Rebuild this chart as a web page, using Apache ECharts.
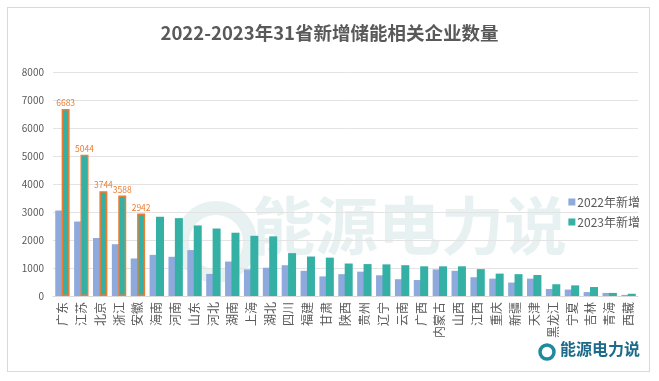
<!DOCTYPE html>
<html>
<head>
<meta charset="utf-8">
<script src="https://cdn.jsdelivr.net/npm/echarts@6/dist/echarts.min.js"></script>
<style>
html,body{margin:0;padding:0;background:#ffffff;}
#frame{position:absolute;left:7px;top:7px;width:643px;height:365px;border:1px solid #d9d9d9;box-sizing:border-box;}
#chart{position:absolute;left:0;top:0;width:659px;height:381px;}
</style>
</head>
<body>
<div id="frame"></div>
<div id="chart"></div>
<script>
const titleText = '2022-2023年31省新增储能相关企业数量';
const provinces = ['广东','江苏','北京','浙江','安徽','海南','河南','山东','河北','湖南','上海','湖北','四川','福建','甘肃','陕西','贵州','辽宁','云南','广西','内蒙古','山西','江西','重庆','新疆','天津','黑龙江','宁夏','吉林','青海','西藏'];
const seriesNames = ['2022年新增','2023年新增'];
const values2022 = [3050,2660,2070,1850,1340,1470,1400,1640,790,1230,950,1010,1100,900,700,780,870,740,600,570,950,900,670,620,480,620,250,230,140,110,40];
const values2023 = [6683,5044,3744,3588,2942,2830,2780,2520,2410,2260,2150,2130,1530,1410,1370,1160,1140,1130,1100,1060,1060,1060,960,800,780,750,420,380,320,110,80];
const highlighted = ['广东','江苏','北京','浙江','安徽'];
const yTicks = [0,1000,2000,3000,4000,5000,6000,7000,8000];

const FONT = '"Noto Sans CJK SC", "Noto Sans", sans-serif';
const chart = echarts.init(document.getElementById('chart'), null, {renderer:'canvas'});

const data2023 = values2023.map((v, i) => {
  if (highlighted.includes(provinces[i])) {
    return {
      value: v,
      itemStyle: {borderColor:'#ED7D31', borderWidth:1.5},
      label: {show:true, position:'top', distance:2, color:'#ED7D31', fontSize:8.5, fontFamily:FONT}
    };
  }
  return v;
});

chart.setOption({
  animation:false,
  backgroundColor:'transparent',
  textStyle:{fontFamily:FONT},
  title:{
    text:titleText,
    left:'center', top:19,
    textStyle:{fontSize:18.5, fontWeight:'bold', color:'#595959', fontFamily:FONT}
  },
  legend:{
    orient:'vertical',
    right:14, top:191,
    itemWidth:7, itemHeight:7, itemGap:8,
    icon:'rect',
    textStyle:{fontSize:12, color:'#595959', fontFamily:FONT, padding:[0,0,0,-3]},
    data:seriesNames
  },
  graphic:[
    {type:'text', left:252, top:194, z:0, silent:true,
     style:{text:'能源电力说', fontSize:63, fontWeight:'bold', fill:'rgba(178,208,212,0.3)', fontFamily:FONT}},
    {type:'circle', shape:{cx:216, cy:242, r:34}, z:0, silent:true,
     style:{fill:'none', stroke:'rgba(178,208,212,0.3)', lineWidth:14}},
    {type:'text', left:560, top:341, z:10, silent:true,
     style:{text:'能源电力说', fontSize:16, fontWeight:'bold', fill:'#1d6a8a', fontFamily:FONT}},
    {type:'circle', shape:{cx:547, cy:352, r:7}, z:10, silent:true,
     style:{fill:'none', stroke:'#1d8aa0', lineWidth:3.5}}
  ],
  grid:{left:53, right:21, top:72, bottom:85, containLabel:false},
  xAxis:{
    type:'category',
    data:provinces,
    axisTick:{show:false},
    axisLine:{lineStyle:{color:'#d9d9d9'}},
    axisLabel:{rotate:90, interval:0, fontSize:12, color:'#595959', margin:6, fontFamily:FONT}
  },
  yAxis:{
    type:'value',
    min:yTicks[0], max:yTicks[yTicks.length-1], interval:1000,
    axisLine:{show:false}, axisTick:{show:false},
    axisLabel:{fontSize:10, color:'#595959', margin:9, fontFamily:FONT, formatter:(v)=>String(v)},
    splitLine:{lineStyle:{color:'#e3e3e3'}}
  },
  series:[
    {name:seriesNames[0], type:'bar', data:values2022, barWidth:8, barGap:'-20%',
     itemStyle:{color:'#8eaadc'}},
    {name:seriesNames[1], type:'bar', data:data2023, barWidth:8,
     itemStyle:{color:'#35b0a4'}}
  ]
});
</script>
</body>
</html>
